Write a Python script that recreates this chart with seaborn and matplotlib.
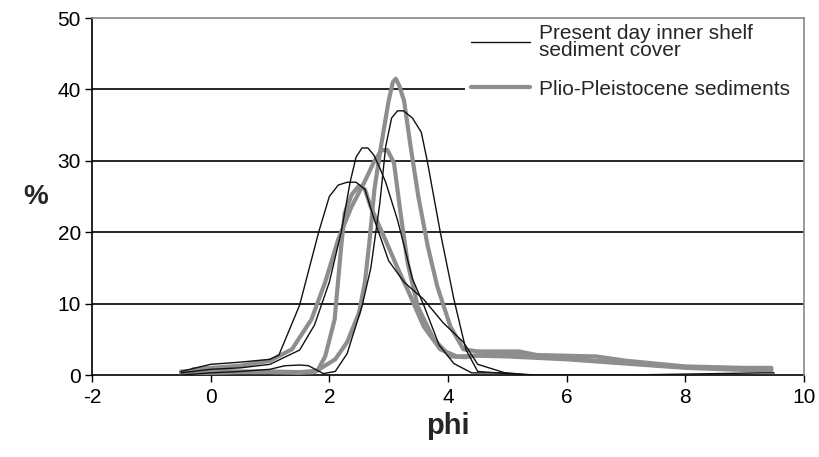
import numpy as np
import pandas as pd
import matplotlib
matplotlib.use("Agg")
import matplotlib.pyplot as plt
from matplotlib.patches import Rectangle
import seaborn as sns

# ---- data ----
b1_phi = [-0.5, 0, 0.5, 1.0, 1.15, 1.5, 1.82, 2.0, 2.15, 2.3, 2.45, 2.6, 2.76, 3.0, 3.26, 3.59, 3.92, 4.26, 4.5, 5.0]
b1_pct = [0.5, 1.5, 1.8, 2.2, 2.8, 9.8, 20, 25, 26.6, 27, 27, 26, 21.7, 16, 13, 10.6, 7.3, 4.6, 1.5, 0.2]

b2_phi = [-0.5, 0, 0.5, 1.0, 1.5, 1.75, 2.0, 2.2, 2.35, 2.45, 2.55, 2.65, 2.75, 2.85, 2.95, 3.15, 3.4, 3.6, 3.85, 4.1, 4.4, 5.0, 5.4]
b2_pct = [0.3, 0.8, 1.0, 1.5, 3.5, 7, 13, 20, 27, 30.5, 31.8, 31.8, 30.8, 29, 27, 21.7, 13.5, 9.6, 4.2, 1.6, 0.3, 0.3, 0]

b3_phi = [-0.5, 0, 0.5, 1.0, 1.25, 1.5, 1.65, 1.9, 2.1, 2.3, 2.55, 2.7, 2.85, 2.95, 3.05, 3.15, 3.25, 3.4, 3.55, 3.65, 3.87, 4.1, 4.3, 4.5, 5.0, 5.5, 7.0, 9.3, 9.5]
b3_pct = [0, 0.3, 0.5, 0.8, 1.3, 1.4, 1.3, 0.2, 0.5, 3, 9.6, 15, 24, 32, 36, 37, 37, 36, 34, 30, 20, 10.6, 3.6, 0.5, 0.2, 0, 0, 0.3, 0.3]

g1_phi = [-0.5, 0, 0.5, 1.0, 1.5, 1.75, 2.1, 2.3, 2.5, 2.6, 2.68, 2.76, 2.87, 3.0, 3.07, 3.12, 3.18, 3.26, 3.37, 3.5, 3.66, 3.82, 4.04, 4.26, 4.5, 5.0, 5.2, 5.5, 6.0, 6.5, 7.0, 7.5, 8.0, 8.5, 9.0, 9.45]
g1_pct = [0.3, 0.3, 0.4, 0.4, 0.3, 0.4, 2.2, 4.6, 8.7, 13, 19, 26, 32, 38.4, 41, 41.5, 40.5, 38.4, 32, 25, 18, 12.4, 6.8, 3.6, 3.3, 3.3, 3.3, 2.8, 2.7, 2.6, 2.0, 1.6, 1.2, 1.1, 1.0, 1.0]

g2_phi = [-0.3, 0, 0.5, 1.0, 1.37, 1.7, 1.93, 2.15, 2.37, 2.59, 2.75, 2.88, 2.98, 3.09, 3.2, 3.32, 3.49, 3.76, 4.04, 4.3, 4.5, 5.0, 5.5, 6.0, 6.5, 7.0, 7.5, 8.0, 8.5, 9.0, 9.45]
g2_pct = [0.8, 1.0, 1.3, 2.0, 3.6, 7.8, 13, 19, 23.5, 27, 29.8, 31.5, 31.5, 29.7, 22.7, 15.7, 9.6, 5.0, 2.6, 2.5, 2.8, 2.9, 2.6, 2.3, 2.0, 1.7, 1.4, 1.1, 1.0, 0.9, 0.8]

g3_phi = [-0.5, 0, 0.5, 1.0, 1.5, 1.8, 1.93, 2.09, 2.2, 2.26, 2.38, 2.5, 2.6, 2.7, 2.92, 3.15, 3.37, 3.59, 3.87, 4.15, 4.5, 5.0, 6.0, 7.0, 8.0, 9.0, 9.45]
g3_pct = [0.5, 0.6, 0.5, 0.5, 0.4, 0.6, 2.6, 7.8, 18, 22.7, 25.3, 26.5, 26, 23.5, 19.4, 15, 11, 6.8, 3.6, 2.6, 2.7, 2.6, 2.2, 1.6, 1.0, 0.7, 0.6]

series = [
    ("Present day inner shelf\nsediment cover", b1_phi, b1_pct),
    ("Present day inner shelf\nsediment cover", b2_phi, b2_pct),
    ("Present day inner shelf\nsediment cover", b3_phi, b3_pct),
    ("Plio-Pleistocene sediments", g1_phi, g1_pct),
    ("Plio-Pleistocene sediments", g2_phi, g2_pct),
    ("Plio-Pleistocene sediments", g3_phi, g3_pct),
]

x_ticks = [-2, 0, 2, 4, 6, 8, 10]
y_ticks = [0, 10, 20, 30, 40, 50]

sns.set_theme(style="white")
plt.rcParams['font.family'] = ['Liberation Sans', 'DejaVu Sans']

fig = plt.figure(figsize=(8.19, 4.57), dpi=100)
ax = fig.add_axes([0.1123, 0.1794, 0.8694, 0.7812])

styles = {
    "Present day inner shelf\nsediment cover": dict(color="#111111", lw=1.0),
    "Plio-Pleistocene sediments": dict(color="#8e8e8e", lw=3.0),
}
seen = set()
for i, (grp, xs, ys) in enumerate(series):
    df = pd.DataFrame({"phi": xs, "pct": ys})
    lab = grp if grp not in seen else None
    seen.add(grp)
    sns.lineplot(data=df, x="phi", y="pct", sort=False, ax=ax, label=lab,
                 zorder=3 if "Plio" in grp else 4, **styles[grp])

ax.set_xlim(-2, 10)
ax.set_ylim(0, 50)
ax.set_xticks(x_ticks)
ax.set_yticks(y_ticks)
ax.set_xticklabels([str(t) for t in x_ticks], fontsize=15)
ax.set_yticklabels([str(t) for t in y_ticks], fontsize=15)
for yv in [10, 20, 30, 40]:
    ax.axhline(yv, color="black", lw=1.2, zorder=1)

ax.tick_params(axis="both", direction="out", length=5, width=1, colors="black", bottom=True, left=True)
ax.tick_params(axis="y", pad=3)
ax.tick_params(axis="x", pad=4)
for s in ["left", "bottom"]:
    ax.spines[s].set_color("black")
    ax.spines[s].set_linewidth(1.2)
for s in ["top", "right"]:
    ax.spines[s].set_color("#888888")
    ax.spines[s].set_linewidth(1.2)
    ax.spines[s].set_zorder(10)

ax.set_xlabel("phi", fontsize=21, fontweight="bold", labelpad=4)
ax.set_ylabel("%", fontsize=20, fontweight="bold", rotation=0, labelpad=16, va="center")

leg = ax.legend(loc="upper right", bbox_to_anchor=(0.988, 0.998), frameon=False, fontsize=15,
                handlelength=2.85, handletextpad=0.45, labelspacing=0.92, borderpad=0.25,
                borderaxespad=0.0)
leg.set_zorder(7)
for t in leg.get_texts():
    t.set_linespacing(0.9)

# white background behind the legend, reaching to the right frame
fig.canvas.draw()
bb = leg.get_window_extent().transformed(ax.transAxes.inverted())
ax.add_patch(Rectangle((bb.x0, bb.y0), 1.0 - bb.x0, 1.0 - bb.y0, transform=ax.transAxes,
                       facecolor="white", edgecolor="none", zorder=6))

fig.savefig("out.png", dpi=100)
